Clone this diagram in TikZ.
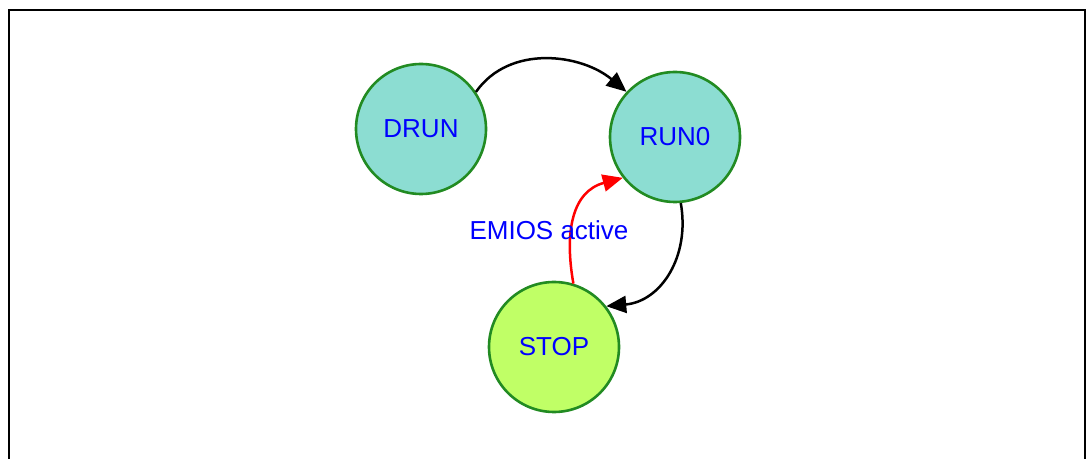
\documentclass[tikz,border=0pt]{standalone}
\usepackage{fontspec}
\setmainfont{Liberation Sans}
\usetikzlibrary{arrows.meta}
\definecolor{runfill}{HTML}{8CDDD2}
\definecolor{stopfill}{HTML}{C0FF66}
\definecolor{ringgreen}{HTML}{228B22}
\definecolor{txtblue}{HTML}{0000FF}

\begin{document}
\begin{tikzpicture}[
  x=0.5pt,y=-0.5pt,
  font=\fontsize{13}{15}\selectfont,
  state/.style={circle,draw=ringgreen,line width=1.3pt,minimum size=65pt,inner sep=0pt,text=txtblue},
  lbl/.style={text=txtblue,inner sep=1pt},
  arr/.style={-{Triangle[length=10pt,width=8.5pt]},line width=1.25pt}
]
\useasboundingbox (0,0) rectangle (1086,459);
\draw[line width=1pt] (9,459) -- (9,10) -- (1085,10) -- (1085,459);
\node[state,fill=runfill] (drun) at (421,129) {DRUN};
\node[state,fill=runfill] (run0) at (675,137) {RUN0};
\node[state,fill=stopfill] (stop) at (554,347) {STOP};
\draw[arr] (drun.34) to[out=55,in=140] (run0.137);
\draw[arr] (run0.-85) to[out=-80,in=5,looseness=1.1] (stop.38);
\draw[arr,red] (stop.73) to[out=100,in=195,looseness=1.15] (run0.-142);
\node[lbl] (emios) at (549,230) {EMIOS active};
\end{tikzpicture}
\end{document}
